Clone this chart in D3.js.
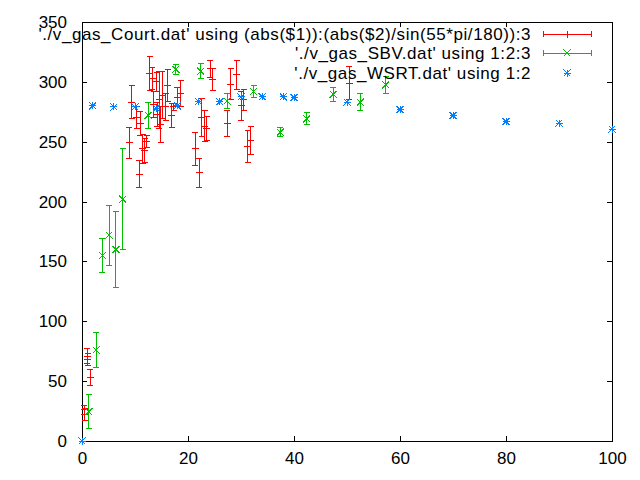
<!DOCTYPE html>
<html>
<head>
<meta charset="utf-8">
<script src="https://d3js.org/d3.v7.min.js"></script>
<style>
  body { margin: 0; background: #fff; }
  text { font-family: "Liberation Sans", Arial, sans-serif; font-size: 17px; fill: #000; }
</style>
</head>
<body>
<svg id="chart" width="640" height="480"></svg>
<script>
// Court data (abs x, deprojected velocity, error)
var courtX   = [0.4, 0.5, 1.0, 1.1, 1.6, 8.9, 9.4, 10.3, 10.8, 11.0, 11.5, 11.8, 12.2, 12.8, 13.3, 13.5, 14.1, 14.2, 14.6, 14.9, 15.1, 15.8, 16.2, 16.9, 17.3, 18.0, 18.6, 21.4, 22.1, 22.6, 23.2, 23.5, 24.2, 24.7, 27.4, 28.1, 29.2, 30.0, 30.5, 31.3, 31.8, 50.4];
var courtY   = [26, 22, 71, 68, 53, 249, 283, 270, 223, 265, 244, 243, 250, 307, 303, 281, 300, 273, 285, 264, 289, 279, 297, 272, 279, 287, 290, 244, 224, 270, 263, 261, 311, 302, 265, 298, 306, 280, 285, 246, 251, 299];
var courtErr = [4, 5, 6, 5, 7, 13, 14, 9, 11, 10, 12, 10, 5, 14, 9, 11, 8, 10, 24, 15, 20, 11, 13, 10, 3, 8, 11, 14, 12, 16, 13, 10, 7, 9, 11, 13, 12, 12, 9, 13, 12, 14];

// SBV data
var sbvX   = [1.3, 2.65, 3.85, 5.1, 6.4, 7.7, 12.5, 17.7, 22.4, 27.4, 32.4, 37.4, 42.4, 47.4, 52.5, 57.3];
var sbvY   = [24.5, 76, 155, 172, 160, 202, 272, 310.5, 309, 284, 292, 258, 269, 289.5, 283, 297.5];
var sbvErr = [14, 15, 14, 25, 32, 42, 11, 4, 6, 6, 5, 4, 5, 6, 7, 7];

// WSRT data
var wsrtX = [0, 2, 6, 10, 14, 18, 22, 26, 30, 34, 38, 40, 50, 60, 70, 80, 90, 100];
var wsrtY = [0, 280, 279, 279, 278, 280, 283.6, 283.5, 287.4, 287.6, 287.6, 287, 283, 277, 272, 267, 265.4, 260.6];

var xTicks = [0, 20, 40, 60, 80, 100];
var yTicks = [0, 50, 100, 150, 200, 250, 300, 350];

var legendLabels = [
  "'./v_gas_Court.dat' using (abs($1)):(abs($2)/sin(55*pi/180)):3",
  "'./v_gas_SBV.dat' using 1:2:3",
  "'./v_gas_WSRT.dat' using 1:2"
];
var colours = ["#ff0000", "#00c000", "#0080ff"];

var svg = d3.select("#chart");
var mLeft = 82, mRight = 612, mTop = 22, mBottom = 441;
var x = d3.scaleLinear().domain([0, 100]).range([mLeft, mRight]);
var y = d3.scaleLinear().domain([0, 350]).range([mBottom, mTop]);

var ps = 3.5, cap = 3;

// axes with inward ticks on all four sides
svg.append("g").attr("transform", `translate(0,${mBottom})`)
   .call(d3.axisBottom(x).tickValues(xTicks).tickSizeInner(-5).tickSizeOuter(0).tickPadding(11));
svg.append("g").attr("transform", `translate(0,${mTop})`)
   .call(d3.axisTop(x).tickValues(xTicks).tickSizeInner(-5).tickSizeOuter(0).tickFormat(""));
svg.append("g").attr("transform", `translate(${mLeft},0)`)
   .call(d3.axisLeft(y).tickValues(yTicks).tickSizeInner(-5).tickSizeOuter(0).tickPadding(15));
svg.append("g").attr("transform", `translate(${mRight},0)`)
   .call(d3.axisRight(y).tickValues(yTicks).tickSizeInner(-5).tickSizeOuter(0).tickFormat(""));
svg.selectAll(".domain").remove();
svg.selectAll(".tick line").attr("stroke", "#000").attr("shape-rendering", "crispEdges");
svg.selectAll(".tick text").style("font-family", "Liberation Sans, Arial, sans-serif").style("font-size", "17px");

svg.append("rect").attr("x", mLeft).attr("y", mTop)
   .attr("width", mRight - mLeft).attr("height", mBottom - mTop)
   .attr("fill", "none").attr("stroke", "#000").attr("shape-rendering", "crispEdges");

// marker paths
const plus = (cx, cy) => `M${cx - ps},${cy}H${cx + ps}M${cx},${cy - ps}V${cy + ps}`;
const cross = (cx, cy) => `M${cx - ps},${cy - ps}L${cx + ps},${cy + ps}M${cx - ps},${cy + ps}L${cx + ps},${cy - ps}`;
const star = (cx, cy) => plus(cx, cy) + cross(cx, cy);
const errBar = (cx, lo, hi) => `M${cx},${lo}V${hi}M${cx - cap},${lo}H${cx + cap}M${cx - cap},${hi}H${cx + cap}`;

const drawErr = function(xs, ys, es, colour, marker) {
  var g = svg.append("g").attr("stroke", colour).attr("fill", "none")
             .attr("stroke-width", 1).attr("shape-rendering", "crispEdges");
  g.selectAll("path").data(xs).enter().append("path")
   .attr("d", (d, i) => errBar(x(d), y(ys[i] - es[i]), y(ys[i] + es[i])) + marker(x(d), y(ys[i])));
};

drawErr(courtX, courtY, courtErr, colours[0], plus);
drawErr(sbvX, sbvY, sbvErr, colours[1], cross);
svg.append("g").attr("stroke", colours[2]).attr("fill", "none")
   .attr("stroke-width", 1).attr("shape-rendering", "crispEdges")
   .selectAll("path").data(wsrtX).enter().append("path")
   .attr("d", (d, i) => star(x(d), y(wsrtY[i])));

// key
var keyY = [34, 53, 73];
var key = svg.append("g");
legendLabels.forEach(function(lab, i) {
  key.append("text").attr("x", 531).attr("y", keyY[i]).attr("dy", "0.35em")
     .attr("text-anchor", "end").style("letter-spacing", "0.57px").text(lab);
  var s = key.append("path").attr("stroke", colours[i]).attr("fill", "none")
             .attr("stroke-width", 1).attr("shape-rendering", "crispEdges");
  if (i < 2) {
    var mk = i == 0 ? plus : cross;
    s.attr("d", `M543,${keyY[i]}H591M543,${keyY[i] - cap}V${keyY[i] + cap}M591,${keyY[i] - cap}V${keyY[i] + cap}` + mk(567, keyY[i]));
  } else {
    s.attr("d", star(567, keyY[i]));
  }
});
</script>
</body>
</html>
